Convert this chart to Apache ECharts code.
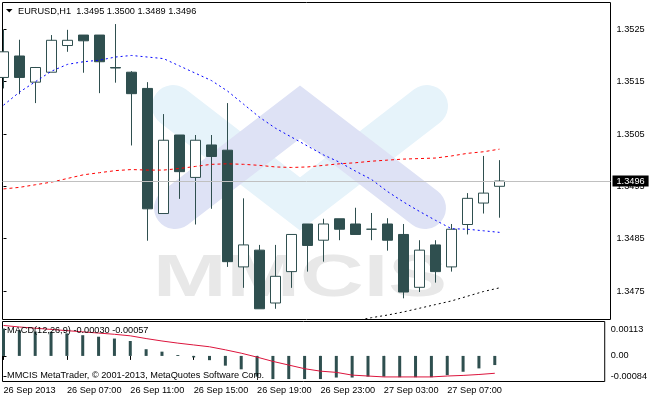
<!DOCTYPE html>
<html><head><meta charset="utf-8">
<script src="https://cdn.jsdelivr.net/npm/echarts@6/dist/echarts.min.js"></script>
<style>html,body{margin:0;padding:0;background:#fff}#c{width:650px;height:400px}</style>
</head><body><div id="c"></div>
<script>
// ---- data ----
const times = ['26 Sep 03:00','26 Sep 04:00','26 Sep 05:00','26 Sep 06:00','26 Sep 07:00','26 Sep 08:00','26 Sep 09:00','26 Sep 10:00',
  '26 Sep 11:00','26 Sep 12:00','26 Sep 13:00','26 Sep 14:00','26 Sep 15:00','26 Sep 16:00','26 Sep 17:00','26 Sep 18:00',
  '26 Sep 19:00','26 Sep 20:00','26 Sep 21:00','26 Sep 22:00','26 Sep 23:00','27 Sep 00:00','27 Sep 01:00','27 Sep 02:00',
  '27 Sep 03:00','27 Sep 04:00','27 Sep 05:00','27 Sep 06:00','27 Sep 07:00','27 Sep 08:00','27 Sep 09:00','27 Sep 10:00'];
const opens  = [1.35158,1.35199,1.35149,1.35168,1.35219,1.35239,1.35239,1.35177,1.35168,1.35137,1.34898,1.35048,1.34967,1.35029,1.35019,1.34796,
                1.34828,1.34727,1.34787,1.34878,1.34847,1.34888,1.34878,1.34868,1.34878,1.34858,1.34757,1.34838,1.34796,1.34877,1.34918,1.3495];
const highs  = [1.35249,1.35230,1.35178,1.35239,1.35249,1.35239,1.35239,1.35260,1.35170,1.35149,1.35088,1.35048,1.35048,1.35048,1.35109,1.34927,
                1.34838,1.34838,1.34858,1.34878,1.34888,1.34888,1.34909,1.34899,1.34889,1.34878,1.34847,1.34847,1.34878,1.34937,1.35008,1.3500];
const lows   = [1.35137,1.35126,1.35109,1.35168,1.35207,1.35167,1.35128,1.35148,1.35028,1.34846,1.34898,1.34926,1.34877,1.34907,1.34796,1.34756,
                1.34716,1.34716,1.34756,1.34787,1.34806,1.34847,1.34858,1.34847,1.34827,1.34736,1.34748,1.34766,1.34787,1.34858,1.34898,1.3489];
const closes = [1.35207,1.35158,1.35177,1.35229,1.35229,1.35228,1.35188,1.35176,1.35127,1.34907,1.35038,1.34978,1.35038,1.35007,1.34806,1.34838,
                1.34716,1.34778,1.34858,1.34837,1.34878,1.34868,1.34858,1.34868,1.34847,1.34748,1.34828,1.34787,1.34868,1.34927,1.34937,1.3496];
const blueMA = [1.35105,1.35130,1.35150,1.35170,1.35183,1.35188,1.35191,1.35197,1.35200,1.35197,1.35194,1.35180,1.35166,1.35152,1.35132,1.35107,
                1.35082,1.35061,1.35044,1.35027,1.35010,1.34996,1.34979,1.34963,1.34940,1.34920,1.34902,1.34885,1.34869,1.34868,1.34865,1.34862];
const redMA  = [1.34945,1.34948,1.34953,1.34958,1.34965,1.34972,1.34976,1.34980,1.34982,1.34981,1.34981,1.34984,1.34988,1.34992,1.34993,1.34992,
                1.34990,1.34987,1.34986,1.34987,1.34990,1.34993,1.34995,1.34998,1.35000,1.35002,1.35003,1.35004,1.35008,1.35013,1.35016,1.35021];
const blackMA = [null,null,null,null,null,null,null,null,null,null,null,null,null,null,null,null,null,null,null,null,null,null,
                1.34693,1.34699,1.34704,1.34710,1.34717,1.34724,1.34731,1.34740,1.34749,1.34756];
const macdHist = [0.00090,0.00084,0.00080,0.00079,0.00074,0.00068,0.00063,0.00057,0.00049,0.00022,0.00014,0.00003,-0.00005,-0.00014,-0.00032,-0.00044,
                -0.00068,-0.00076,-0.00076,-0.00076,-0.00076,-0.00071,-0.00071,-0.00068,-0.00068,-0.00070,-0.00070,-0.00070,-0.00063,-0.00052,-0.00041,-0.00030];
const macdSignal = [0.00100,0.00095,0.00091,0.00087,0.00083,0.00079,0.00075,0.00071,0.00066,0.00057,0.00049,0.00042,0.00036,0.00030,0.00020,0.00009,
                -0.00004,-0.00018,-0.00030,-0.00042,-0.00050,-0.00054,-0.00063,-0.00066,-0.00069,-0.00069,-0.00069,-0.00069,-0.00066,-0.00064,-0.00061,-0.00057];
const xTickIdx = [0,4,8,12,16,20,24,28];
const xTickLabels = ['26 Sep 2013','26 Sep 07:00','26 Sep 11:00','26 Sep 15:00','26 Sep 19:00','26 Sep 23:00','27 Sep 03:00','27 Sep 07:00'];
const priceTicks = [1.3475,1.3485,1.3495,1.3505,1.3515,1.3525];
const macdMax = 0.00113, macdMin = -0.00084;
const macdTickLabels = ['0.00113','0.00','-0.00084'];
const headerText = 'EURUSD,H1  1.3495 1.3500 1.3489 1.3496';
const macdTitle = 'MACD(12,26,9) -0.00030 -0.00057';
const copyright = 'MMCIS MetaTrader, \u00A9 2001-2013, MetaQuotes Software Corp.';
const lastPrice = 1.3496;

// ---- chart ----
const FONT = '"Liberation Sans", Arial, sans-serif';
const FS = 9.2;
const DARK = '#2F4F4F';
const chart = echarts.init(document.getElementById('c'), null, {renderer:'canvas'});
const xr = {min:-0.0625, max:37.9375};
const pts = arr => arr.map((v,i)=>[i,v]).filter(p=>p[1]!==null);
// MT4 prints the panel's max/min labels just inside the panel edges
const macdSpan = macdMax - macdMin;
const macdLabelPos = [macdMax - macdSpan*0.125, 0, macdMin + macdSpan*0.09];

const option = {
  animation:false,
  textStyle:{fontFamily:FONT},
  grid:[
    {left:2.5, top:2.5, width:608, height:317, show:true, borderColor:'#000', borderWidth:1},
    {left:2.5, top:321.5, width:608, height:60, show:true, borderColor:'#000', borderWidth:1}
  ],
  xAxis:[
    {type:'value', gridIndex:0, min:xr.min, max:xr.max, axisLine:{show:false}, axisTick:{show:false}, axisLabel:{show:false}, splitLine:{show:false}},
    {type:'value', gridIndex:1, min:xr.min, max:xr.max, axisLine:{show:false}, splitLine:{show:false},
      axisTick:{show:true, length:4, customValues:xTickIdx, lineStyle:{color:'#000'}},
      axisLabel:{show:true, customValues:xTickIdx, align:'left', margin:4, color:'#000', fontSize:FS, fontFamily:FONT,
        formatter:v=>{const k=xTickIdx.indexOf(Math.round(v)); return k>=0?xTickLabels[k]:'';}}}
  ],
  yAxis:[
    {type:'value', gridIndex:0, position:'right', min:1.346955, max:1.353012, axisLine:{show:false}, splitLine:{show:false},
      axisTick:{show:true, length:3, customValues:priceTicks, lineStyle:{color:'#000'}},
      axisLabel:{customValues:priceTicks, margin:6, color:'#000', fontSize:FS, fontFamily:FONT, formatter:v=>v.toFixed(4)}},
    {type:'value', gridIndex:1, position:'right', min:macdMin, max:macdMax, axisLine:{show:false}, splitLine:{show:false},
      axisTick:{show:true, length:3, customValues:macdLabelPos, lineStyle:{color:'#000'}},
      axisLabel:{customValues:macdLabelPos, margin:6, color:'#000', fontSize:FS, fontFamily:FONT,
        formatter:v=>{let b=0;macdLabelPos.forEach((t,k)=>{if(Math.abs(t-v)<Math.abs(macdLabelPos[b]-v))b=k;});return macdTickLabels[b];}}}
  ],
  graphic:[
    // watermark
    {type:'polyline', z:0, silent:true, shape:{points:[[173,106],[300,204],[427,106]]},
      style:{stroke:'#E6F3FA', lineWidth:42, lineCap:'round', lineJoin:'miter', fill:null}},
    {type:'polyline', z:0, silent:true, shape:{points:[[175,208],[300,112],[425,208]]},
      style:{stroke:'#DEE2F5', lineWidth:42, lineCap:'round', lineJoin:'miter', fill:null}},
    {type:'text', z:0, silent:true, x:300, y:279, scaleX:1.47,
      style:{text:'MMCIS', fontSize:60, fontWeight:'bold', fontFamily:FONT, fill:'#E8E8E8', align:'center', verticalAlign:'middle'}},
    // header
    {type:'polygon', z:10, shape:{points:[[6,9],[12.5,9],[9.25,12.5]]}, style:{fill:'#000'}},
    {type:'text', z:10, x:18, y:11, style:{text:headerText, fontSize:FS, fontFamily:FONT, fill:'#000', verticalAlign:'middle'}},
    {type:'text', z:10, x:7, y:330.5, style:{text:macdTitle, fontSize:FS, fontFamily:FONT, fill:'#000', verticalAlign:'middle'}},
    {type:'text', z:10, x:7, y:375, style:{text:copyright, fontSize:FS, fontFamily:FONT, fill:'#000', verticalAlign:'middle'}}
  ],
  series:[
    {type:'candlestick', xAxisIndex:0, yAxisIndex:0, barWidth:10, z:3,
      data:times.map((t,i)=>[i, opens[i], closes[i], lows[i], highs[i]]),
      encode:{x:0, y:[1,2,3,4]},
      itemStyle:{color:'#FFFFFF', color0:DARK, borderColor:DARK, borderColor0:DARK, borderWidth:1}},
    {type:'line', xAxisIndex:0, yAxisIndex:0, z:4, data:pts(blueMA), symbol:'none', lineStyle:{color:'#0000FF', width:1, type:[2,3]},
      markLine:{silent:true, symbol:'none', animation:false, precision:4,
        lineStyle:{color:'#C0C0C0', type:'solid', width:1},
        label:{show:true, position:'end', distance:2, formatter:lastPrice.toFixed(4), color:'#fff', backgroundColor:'#000',
          padding:[1,4,1,4], fontSize:FS, fontFamily:FONT},
        data:[{yAxis:lastPrice}]}},
    {type:'line', xAxisIndex:0, yAxisIndex:0, z:4, data:pts(redMA), symbol:'none', lineStyle:{color:'#FF0000', width:1, type:[3,3]}},
    {type:'line', xAxisIndex:0, yAxisIndex:0, z:4, data:pts(blackMA), symbol:'none', lineStyle:{color:'#000000', width:1, type:[2,3]}},
    {type:'bar', xAxisIndex:1, yAxisIndex:1, barWidth:3, z:3, data:pts(macdHist), itemStyle:{color:DARK}},
    {type:'line', xAxisIndex:1, yAxisIndex:1, z:4, data:pts(macdSignal), symbol:'none', lineStyle:{color:'#DC143C', width:1}}
  ]
};
chart.setOption(option);
</script></body></html>
